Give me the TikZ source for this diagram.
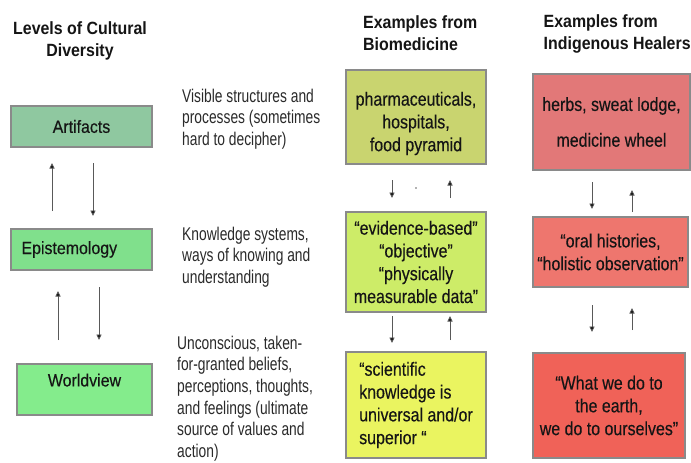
\documentclass[tikz,border=0pt]{standalone}
\usepackage{fontspec}
\setmainfont{Liberation Sans}
\newfontfamily\hdrfont{Liberation Sans}[FakeStretch=0.9]
\newfontfamily\lblfont{Liberation Sans}[FakeStretch=0.9,FakeBold=0.3]
\newfontfamily\descfont{Liberation Sans}[FakeStretch=0.75]
\newfontfamily\boxfont{Liberation Sans}[FakeStretch=0.84,FakeBold=0.3]
\usetikzlibrary{arrows.meta}
\definecolor{cArt}{HTML}{8FC8A0}
\definecolor{cEpi}{HTML}{80E08C}
\definecolor{cWor}{HTML}{84EC8C}
\definecolor{cBa}{HTML}{C9D46F}
\definecolor{cBb}{HTML}{CDEC68}
\definecolor{cBc}{HTML}{EAF460}
\definecolor{cIa}{HTML}{E27878}
\definecolor{cIb}{HTML}{EE766E}
\definecolor{cIc}{HTML}{F06258}
\definecolor{cBorder}{HTML}{8A8A8A}
\definecolor{cText}{HTML}{151515}
\definecolor{cDesc}{HTML}{2A2A2A}
\tikzset{
  lvlbox/.style={draw=cBorder, line width=1.2pt, inner sep=0pt, outer sep=0pt,
    text=cText, font=\lblfont\fontsize{17.7}{21}\selectfont, align=center},
  exbox/.style={draw=cBorder, line width=1.2pt, inner sep=0pt, outer sep=0pt,
    text=cText, font=\boxfont\fontsize{19}{22.8}\selectfont},
  boxtxt/.style={inner sep=0pt, text=cText, font=\boxfont\fontsize{19}{22.8}\selectfont},
  hdr/.style={font=\hdrfont\bfseries\fontsize{17.7}{22}\selectfont, text=cText, inner sep=0pt},
  desc/.style={font=\descfont\fontsize{18.4}{21.7}\selectfont, text=cDesc, inner sep=0pt, align=left, anchor=west},
  arr/.style={draw=black!65, line width=0.9pt, -{Triangle[length=5.5pt,width=5pt,fill=black]}}
}
\begin{document}
\begin{tikzpicture}[x=1pt,y=-1pt]
\fill[white] (0,0) rectangle (691,463);
\useasboundingbox (0,0) rectangle (691,463);

% headers
\node[hdr, align=center] (h1) at (80,40.5) {Levels of Cultural\\Diversity};
\node[hdr, align=left, anchor=west] (h2) at (363,33.5) {Examples from\\Biomedicine};
\node[hdr, align=left, anchor=west] (h3) at (543.5,33.5) {Examples from\\Indigenous Healers};

% level boxes
\node[lvlbox, fill=cArt, minimum width=141pt, minimum height=41pt] (art) at (81.5,126.5) {Artifacts};
\node[lvlbox, fill=cEpi, minimum width=141pt, minimum height=41pt, text width=120pt, align=left] (epi) at (81.5,249.5) {Epistemology};
\node[lvlbox, fill=cWor, minimum width=135pt, minimum height=51pt, text depth=19pt] (wor) at (84.5,389.5) {Worldview};

% descriptions
\node[desc] (d1) at (182,119) {Visible structures and\\processes (sometimes\\hard to decipher)};
\node[desc] (d2) at (182,257) {Knowledge systems,\\ways of knowing and\\understanding};
\node[desc] (d3) at (177,398.5) {Unconscious, taken-\\for-granted beliefs,\\perceptions, thoughts,\\and feelings (ultimate\\source of values and\\action)};

% biomedicine boxes
\node[exbox, fill=cBa, minimum width=140pt, minimum height=94pt] (b1) at (416,117) {};
\node[boxtxt, align=center] (b1t) at (416,123.5) {pharmaceuticals,\\hospitals,\\food pyramid};
\node[exbox, fill=cBb, minimum width=140pt, minimum height=100pt, align=center] (b2) at (416,262) {“evidence-based”\\“objective”\\“physically\\measurable data”};
\node[exbox, fill=cBc, minimum width=140pt, minimum height=106pt, align=left] (b3) at (416,405) {“scientific\\knowledge is\\universal and/or\\superior “};

% indigenous boxes
\node[exbox, fill=cIa, minimum width=157pt, minimum height=96pt, align=center] (i1) at (611.5,122) {herbs, sweat lodge,\\[13pt]medicine wheel};
\node[exbox, fill=cIb, minimum width=155pt, minimum height=70pt, align=center] (i2) at (610.5,252) {“oral histories,\\“holistic observation”};
\node[exbox, fill=cIc, minimum width=152pt, minimum height=105pt, align=center] (i3) at (609,405.5) {“What we do to\\the earth,\\we do to ourselves”};

% arrow end points
\coordinate (la1) at (52,211);  \coordinate (la2) at (52,163);
\coordinate (lb1) at (93,163);  \coordinate (lb2) at (93,216);
\coordinate (lc1) at (58,340);  \coordinate (lc2) at (58,291);
\coordinate (ld1) at (99,287);  \coordinate (ld2) at (99,340);
\coordinate (ba1) at (392,180); \coordinate (ba2) at (392,198);
\coordinate (bb1) at (450,198); \coordinate (bb2) at (450,180);
\coordinate (bc1) at (392,316); \coordinate (bc2) at (392,343);
\coordinate (bd1) at (450,340); \coordinate (bd2) at (450,316);
\coordinate (ia1) at (592,182); \coordinate (ia2) at (592,209);
\coordinate (ib1) at (632,212); \coordinate (ib2) at (632,190);
\coordinate (ic1) at (592,305); \coordinate (ic2) at (592,332);
\coordinate (id1) at (632,330); \coordinate (id2) at (632,308);

\draw[arr] (la1) -- (la2);
\draw[arr] (lb1) -- (lb2);
\draw[arr] (lc1) -- (lc2);
\draw[arr] (ld1) -- (ld2);
\draw[arr] (ba1) -- (ba2);
\draw[arr] (bb1) -- (bb2);
\draw[arr] (bc1) -- (bc2);
\draw[arr] (bd1) -- (bd2);
\draw[arr] (ia1) -- (ia2);
\draw[arr] (ib1) -- (ib2);
\draw[arr] (ic1) -- (ic2);
\draw[arr] (id1) -- (id2);

% small speck
\fill[black!60] (416,188) circle (0.8pt);
\end{tikzpicture}
\end{document}
